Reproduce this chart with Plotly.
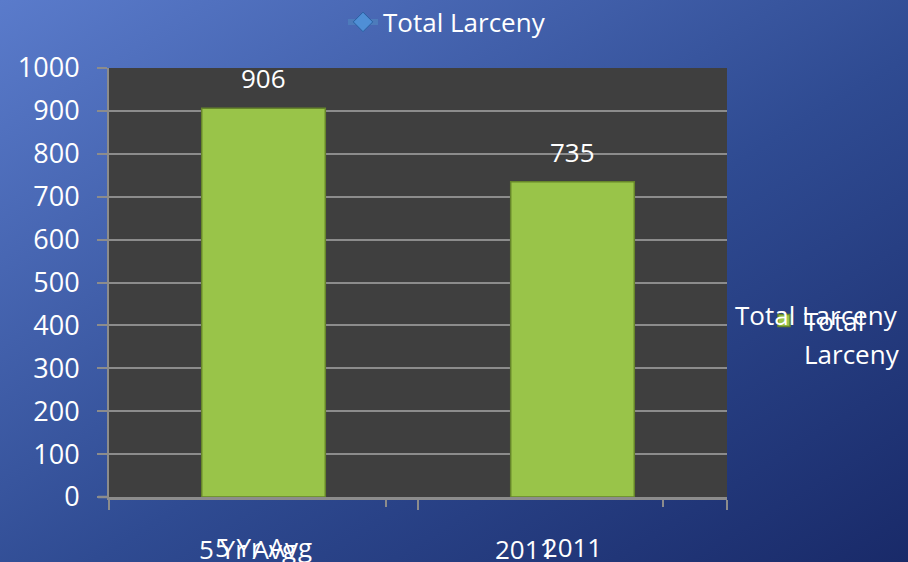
"""Total Larceny: 5 year average vs 2011, bar chart on a blue gradient slide."""

import base64

import plotly.graph_objects as go

# data
categories = ["5 Yr Avg", "2011"]
larceny = [906, 735]
series_name = "Total Larceny"
y_ticks = list(range(0, 1001, 100))

W, H = 908, 562
ML, MR, MT, MB = 109, 181, 68, 65
PW, PH = W - ML - MR, H - MT - MB

FONT = "Open Sans, Lato, sans-serif"
WHITE = "#ffffff"
GRID = "#8c8c8c"

# slide background: diagonal blue gradient as an inline svg
svg = (
    '<svg xmlns="http://www.w3.org/2000/svg" width="908" height="562" preserveAspectRatio="none">'
    '<defs><linearGradient id="g" x1="0" y1="0" x2="1" y2="1">'
    '<stop offset="0" stop-color="#5a7bcb"/>'
    '<stop offset="0.55" stop-color="#2f4b92"/>'
    '<stop offset="1" stop-color="#192a69"/>'
    '</linearGradient></defs>'
    '<rect width="908" height="562" fill="url(#g)"/></svg>'
)
bg_uri = "data:image/svg+xml;base64," + base64.b64encode(svg.encode()).decode()

fig = go.Figure()

# main bars
fig.add_trace(go.Bar(
    x=categories, y=larceny,
    name=series_name.replace(" ", "<br>"),
    marker=dict(color="#99c449", line=dict(color="#66852a", width=1.5)),
    legend="legend2",
    hoverinfo="x+y",
))

# legend entry of the overlapped line series
fig.add_trace(go.Scatter(
    x=[None], y=[None], name=series_name,
    mode="lines+markers",
    line=dict(color="rgba(79,129,189,0.75)", width=6),
    marker=dict(symbol="diamond", size=15, color="#4f8fd6",
                line=dict(color="#2a5fa0", width=1)),
    legend="legend",
))

# value labels above bars (x given as category index)
for i, v in enumerate(larceny):
    fig.add_annotation(x=i, y=v, xref="x", yref="y", text=str(v),
                       showarrow=False, yshift=30,
                       font=dict(family=FONT, size=26, color=WHITE))

# ghost copy of the category axis, offset left (narrower plot of the overlapped chart)
ghost_w = (663 - ML) / PW
for i, c in enumerate(categories):
    fig.add_annotation(x=ghost_w * (i + 0.5) / len(categories), y=-0.1215,
                       xref="paper", yref="paper", text=c, showarrow=False,
                       xanchor="center", yanchor="middle",
                       font=dict(family=FONT, size=26, color=WHITE))
for i in range(1, len(categories) + 1):
    xg = ghost_w * i / len(categories)
    fig.add_shape(type="line", xref="paper", yref="paper", x0=xg, x1=xg,
                  y0=0, y1=-10 / PH, line=dict(color=GRID, width=2))
fig.add_shape(type="line", xref="paper", yref="paper", x0=-11 / PW, x1=0,
              y0=0, y1=0, line=dict(color=GRID, width=2.5))

# overlapped single-line legend text from the ghost chart
fig.add_annotation(x=(733 - ML) / PW, y=1 - (315 - MT) / PH, xref="paper", yref="paper",
                   text=series_name, showarrow=False, xanchor="left", yanchor="middle",
                   font=dict(family=FONT, size=26, color=WHITE))

fig.add_layout_image(dict(
    source=bg_uri, xref="paper", yref="paper",
    x=-ML / PW, y=1 + MT / PH, sizex=W / PW, sizey=H / PH,
    xanchor="left", yanchor="top", sizing="stretch", layer="below",
))
fig.add_shape(type="rect", xref="paper", yref="paper", x0=0, x1=1, y0=0, y1=1,
              fillcolor="#3f3f3f", line_width=0, layer="below")

fig.update_layout(
    width=W, height=H,
    margin=dict(l=ML, r=MR, t=MT, b=MB, autoexpand=False),
    paper_bgcolor="#2f4b92",
    plot_bgcolor="rgba(0,0,0,0)",
    font=dict(family=FONT, color=WHITE),
    bargap=0.6,
    xaxis=dict(
        type="category", categoryorder="array", categoryarray=categories,
        range=[-0.5, len(categories) - 0.5],
        tickson="boundaries", ticks="outside", ticklen=10, tickwidth=2, tickcolor=GRID,
        showline=True, linecolor=GRID, linewidth=2.5, tickangle=0,
        showgrid=False, tickfont=dict(family=FONT, size=26, color=WHITE),
        automargin=False, ticklabelstandoff=26,
    ),
    yaxis=dict(
        range=[0, 1000], tickvals=y_ticks,
        ticks="outside", ticklen=10, tickwidth=2, tickcolor=GRID,
        showline=True, linecolor=GRID, linewidth=2,
        showgrid=True, gridcolor=GRID, gridwidth=1.5,
        zeroline=False, tickfont=dict(family=FONT, size=27, color=WHITE),
        automargin=False, ticklabelstandoff=12,
    ),
    legend=dict(
        orientation="h", xref="container", yref="container",
        x=343 / W, y=1 - 22 / H, xanchor="left", yanchor="middle",
        bgcolor="rgba(0,0,0,0)", font=dict(family=FONT, size=26, color=WHITE),
    ),
    legend2=dict(
        xref="container", yref="container",
        x=764 / W, y=1 - 297 / H, xanchor="left", yanchor="top",
        valign="top", bgcolor="rgba(0,0,0,0)",
        font=dict(family=FONT, size=26, color=WHITE),
    ),
    showlegend=True,
)

fig.write_html("out.html", config={"displayModeBar": False},
               post_script="document.body.style.margin='0';")
